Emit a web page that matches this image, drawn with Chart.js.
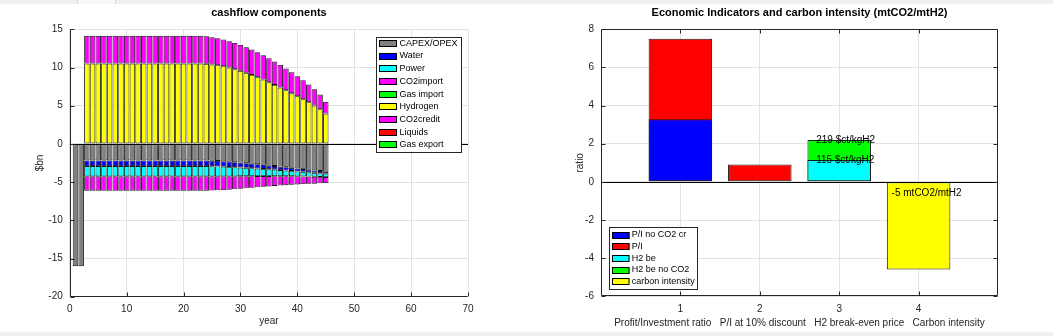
<!DOCTYPE html>
<html><head><meta charset="utf-8">
<script src="https://cdn.jsdelivr.net/npm/chart.js@4.4.1/dist/chart.umd.min.js"></script>
<style>
html,body{margin:0;padding:0;background:#fff;width:1053px;height:336px;overflow:hidden;}
#left{position:absolute;left:0;top:0;}
#right{position:absolute;left:527px;top:0;}
.strip{position:absolute;left:0;width:1053px;background:#f0f0f0;}
</style></head><body>
<div class="strip" style="top:0;height:4px"></div>
<div style="position:absolute;left:77px;top:0;width:37px;height:4px;background:#f8f8f8;border-left:1px solid #d4d4d4;border-right:1px solid #d4d4d4"></div>
<div class="strip" style="top:332px;height:4px"></div>
<canvas id="left" width="527" height="336"></canvas>
<canvas id="right" width="526" height="336"></canvas>
<script>
// ---------- LEFT CHART DATA: cashflow components ($bn) ----------
const years = [1,2,3,4,5,6,7,8,9,10,11,12,13,14,15,16,17,18,19,20,21,22,23,24,25,26,27,28,29,30,31,32,33,34,35,36,37,38,39,40,41,42,43,44,45];
const capexOpex = [
  -16,-16,-2.16,-2.16,-2.16,-2.16,-2.16,-2.16,-2.16,-2.16,
  -2.16,-2.16,-2.16,-2.16,-2.16,-2.16,-2.16,-2.16,-2.16,-2.16,
  -2.16,-2.16,-2.16,-2.16,-2.19,-2.23,-2.28,-2.33,-2.39,-2.45,
  -2.52,-2.59,-2.66,-2.73,-2.81,-2.89,-2.97,-3.05,-3.13,-3.21,
  -3.30,-3.38,-3.47,-3.55,-3.64];
const water = [
  0,0,-0.74,-0.74,-0.74,-0.74,-0.74,-0.74,-0.74,-0.74,
  -0.74,-0.74,-0.74,-0.74,-0.74,-0.74,-0.74,-0.74,-0.74,-0.74,
  -0.74,-0.74,-0.74,-0.74,-0.73,-0.72,-0.70,-0.68,-0.66,-0.64,
  -0.61,-0.59,-0.56,-0.54,-0.51,-0.49,-0.46,-0.44,-0.41,-0.39,
  -0.36,-0.34,-0.31,-0.29,-0.26];
const power = [
  0,0,-1.35,-1.35,-1.35,-1.35,-1.35,-1.35,-1.35,-1.35,
  -1.35,-1.35,-1.35,-1.35,-1.35,-1.35,-1.35,-1.35,-1.35,-1.35,
  -1.35,-1.35,-1.35,-1.35,-1.33,-1.30,-1.27,-1.23,-1.19,-1.14,
  -1.09,-1.04,-0.99,-0.94,-0.89,-0.84,-0.79,-0.74,-0.69,-0.65,
  -0.60,-0.56,-0.52,-0.48,-0.44];
const co2import = [
  0,0,-1.88,-1.88,-1.88,-1.88,-1.88,-1.88,-1.88,-1.88,
  -1.88,-1.88,-1.88,-1.88,-1.88,-1.88,-1.88,-1.88,-1.88,-1.88,
  -1.88,-1.88,-1.88,-1.88,-1.86,-1.83,-1.79,-1.75,-1.70,-1.65,
  -1.59,-1.53,-1.47,-1.41,-1.35,-1.29,-1.23,-1.17,-1.11,-1.05,
  -1.00,-0.95,-0.90,-0.84,-0.79];
const gasImport = [0,0,0,0,0,0,0,0,0,0,0,0,0,0,0,0,0,0,0,0,0,0,0,0,0,0,0,0,0,0,0,0,0,0,0,0,0,0,0,0,0,0,0,0,0];
const hydrogen = [
  0,0,10.52,10.52,10.52,10.52,10.52,10.52,10.52,10.52,
  10.52,10.52,10.52,10.52,10.52,10.52,10.52,10.52,10.52,10.52,
  10.52,10.52,10.52,10.48,10.39,10.30,10.17,10.00,9.78,9.56,
  9.30,9.03,8.73,8.42,8.07,7.72,7.37,7.03,6.63,6.24,
  5.85,5.46,5.02,4.54,3.97];
const co2credit = [
  0,0,3.62,3.62,3.62,3.62,3.62,3.62,3.62,3.62,
  3.62,3.62,3.62,3.62,3.62,3.62,3.62,3.62,3.62,3.62,
  3.62,3.62,3.62,3.62,3.58,3.54,3.49,3.44,3.44,3.40,
  3.36,3.32,3.27,3.19,3.14,3.06,2.97,2.83,2.75,2.62,
  2.49,2.31,2.14,1.92,1.53];
const liquids = [0,0,0,0,0,0,0,0,0,0,0,0,0,0,0,0,0,0,0,0,0,0,0,0,0,0,0,0,0,0,0,0,0,0,0,0,0,0,0,0,0,0,0,0,0];
const gasExport = [0,0,0,0,0,0,0,0,0,0,0,0,0,0,0,0,0,0,0,0,0,0,0,0,0,0,0,0,0,0,0,0,0,0,0,0,0,0,0,0,0,0,0,0,0];
const leftLabels = ['CAPEX/OPEX','Water','Power','CO2import','Gas import','Hydrogen','CO2credit','Liquids','Gas export'];
const leftColors = ['#808080','#0000ff','#00ffff','#ff00ff','#00ff00','#ffff00','#ff00ff','#ff0000','#00ff00'];
const leftSeries = [capexOpex, water, power, co2import, gasImport, hydrogen, co2credit, liquids, gasExport];

// ---------- RIGHT CHART DATA: economic indicators ----------
const indicatorTicks = [1,2,3,4];
const xLabelRight = 'Profit/Investment ratio   P/I at 10% discount   H2 break-even price   Carbon intensity';
const piNoCO2X = [1];    const piNoCO2 = [3.28];
const piX = [1, 2];      const pi = [7.5, 0.91];
const h2beX = [3];       const h2be = [1.15];
const h2beNoCO2X = [3];  const h2beNoCO2 = [2.19];
const carbonX = [4];     const carbonIntensity = [-4.6];
const rightLabels = ['P/I no CO2 cr','P/I','H2 be','H2 be no CO2','carbon intensity'];
const rightColors = ['#0000ff','#ff0000','#00ffff','#00ff00','#ffff00'];
const noteX = [2.71, 2.71, 3.66];
const noteY = [2.19, 1.15, -0.58];
const noteText = ['219 $ct/kgH2', '115 $ct/kgH2', '-5 mtCO2/mtH2'];

// ---------- styling / plugins ----------
const FONT = '"Liberation Sans", Arial, Helvetica, sans-serif';
const AX = '#262626';
const GRID = '#e2e2e2';
Chart.defaults.font.family = FONT;
Chart.defaults.font.size = 10;
Chart.defaults.color = AX;

const framePlugin = {
  id: 'frame',
  afterDatasetsDraw(chart, args, o) {
    const {ctx, chartArea: a, scales} = chart;
    const xs = scales.x, ys = scales.y;
    ctx.save();
    const y0 = Math.round(ys.getPixelForValue(0)) + 0.5;
    ctx.strokeStyle = '#000'; ctx.lineWidth = 1;
    ctx.beginPath(); ctx.moveTo(a.left, y0); ctx.lineTo(a.right, y0); ctx.stroke();
    const L = Math.round(a.left) + 0.5, R = Math.round(a.right) - 0.5;
    const T = Math.round(a.top) + 0.5, B = Math.round(a.bottom) - 0.5;
    ctx.strokeStyle = AX; ctx.lineWidth = 1;
    ctx.beginPath();
    ctx.moveTo(L, T); ctx.lineTo(L, B); ctx.lineTo(R, B);
    if (o.box) { ctx.lineTo(R, T); ctx.lineTo(L, T); }
    ctx.stroke();
    const tl = 4;
    ctx.beginPath();
    ys.ticks.forEach(t => {
      const p = Math.round(ys.getPixelForValue(t.value)) + 0.5;
      ctx.moveTo(L, p); ctx.lineTo(L + tl, p);
      if (o.box) { ctx.moveTo(R, p); ctx.lineTo(R - tl, p); }
    });
    xs.ticks.forEach(t => {
      const p = Math.round(xs.getPixelForValue(t.value)) + 0.5;
      ctx.moveTo(p, B); ctx.lineTo(p, B - tl);
      if (o.box) { ctx.moveTo(p, T); ctx.lineTo(p, T + tl); }
    });
    ctx.stroke();
    if (o.notes) {
      ctx.fillStyle = '#000'; ctx.font = '10px ' + FONT;
      ctx.textAlign = 'left'; ctx.textBaseline = 'middle';
      o.notes.x.forEach((vx, i) => {
        ctx.fillText(o.notes.t[i], xs.getPixelForValue(vx), ys.getPixelForValue(o.notes.y[i]));
      });
    }
    ctx.restore();
  },
  afterDraw(chart, args, o) {
    const {ctx, chartArea: a} = chart;
    ctx.save();
    ctx.fillStyle = '#000';
    ctx.font = 'bold 11px ' + FONT;
    ctx.textAlign = 'center'; ctx.textBaseline = 'middle';
    ctx.fillText(o.title, (a.left + a.right) / 2, 12.7);
    const g = o.legend;
    ctx.fillStyle = '#fff';
    ctx.fillRect(g.x, g.y, g.w, g.h);
    ctx.strokeStyle = AX; ctx.lineWidth = 1;
    ctx.strokeRect(Math.round(g.x) + 0.5, Math.round(g.y) + 0.5, Math.round(g.w) - 1, Math.round(g.h) - 1);
    ctx.font = '9px ' + FONT;
    ctx.textAlign = 'left'; ctx.textBaseline = 'middle';
    chart.data.datasets.forEach((d, i) => {
      const cy = g.y + g.first + i * g.step;
      const sy = Math.round(cy - g.sh / 2);
      ctx.fillStyle = d.backgroundColor;
      ctx.fillRect(Math.round(g.sx), sy, g.sw, g.sh);
      ctx.strokeStyle = '#000';
      ctx.strokeRect(Math.round(g.sx) + 0.5, sy + 0.5, g.sw - 1, g.sh - 1);
      ctx.fillStyle = '#000';
      ctx.fillText(d.label, g.tx, cy);
    });
    ctx.restore();
  }
};

// ---------- LEFT CHART ----------
new Chart(document.getElementById('left'), {
  type: 'bar',
  data: {
    datasets: leftSeries.map((vals, i) => ({
      label: leftLabels[i],
      data: vals.map((v, k) => ({x: years[k], y: v})),
      backgroundColor: leftColors[i],
      borderColor: '#111',
      borderWidth: 0.9,
      borderSkipped: false
    }))
  },
  options: {
    responsive: false, animation: false,
    layout: {padding: {left: 0, right: 59, top: 29.3, bottom: 0}},
    datasets: {bar: {categoryPercentage: 1, barPercentage: 0.96}},
    plugins: {
      legend: {display: false}, tooltip: {enabled: false},
      frame: {
        box: false,
        title: 'cashflow components',
        legend: {x: 376, y: 37, w: 86, h: 116, first: 6.3, step: 12.7, sx: 379, sw: 18, sh: 7, tx: 399.5}
      }
    },
    scales: {
      x: {
        type: 'linear', stacked: true, min: 0, max: 70, offset: false,
        ticks: {stepSize: 10, padding: 7, maxRotation: 0, autoSkip: false, color: AX, font: {size: 10}},
        grid: {color: GRID, drawTicks: false, offset: false},
        border: {display: false},
        title: {display: true, text: 'year', color: AX, font: {size: 10}, padding: {top: 0, bottom: 9}},
        afterFit(s) { s.height = 39.3; }
      },
      y: {
        type: 'linear', stacked: true, min: -20, max: 15,
        ticks: {stepSize: 5, padding: 7, color: AX, font: {size: 10}},
        grid: {color: GRID, drawTicks: false},
        border: {display: false},
        title: {display: true, text: '$bn', color: AX, font: {size: 10}, padding: {top: 34, bottom: 0}},
        afterFit(s) { s.width = 69.8; }
      }
    }
  },
  plugins: [framePlugin]
});

// ---------- RIGHT CHART ----------
const rightSeries = [
  [piNoCO2X, piNoCO2], [piX, pi], [h2beX, h2be], [h2beNoCO2X, h2beNoCO2], [carbonX, carbonIntensity]
];
new Chart(document.getElementById('right'), {
  type: 'bar',
  data: {
    datasets: rightSeries.map(([xs, vs], i) => ({
      label: rightLabels[i],
      data: vs.map((v, k) => ({x: xs[k], y: v})),
      backgroundColor: rightColors[i],
      borderColor: '#1a1a1a',
      borderWidth: 1,
      borderSkipped: false,
      grouped: false
    }))
  },
  options: {
    responsive: false, animation: false,
    layout: {padding: {left: 0, right: 55, top: 29.3, bottom: 0}},
    datasets: {bar: {categoryPercentage: 1, barPercentage: 0.8}},
    plugins: {
      legend: {display: false}, tooltip: {enabled: false},
      frame: {
        box: true,
        title: 'Economic Indicators and carbon intensity (mtCO2/mtH2)',
        notes: {x: noteX, y: noteY, t: noteText},
        legend: {x: 82, y: 227.3, w: 89.3, h: 62.7, first: 7.7, step: 11.67, sx: 84.7, sw: 17.5, sh: 7, tx: 104.7}
      }
    },
    scales: {
      x: {
        type: 'linear', min: 0, max: 5, offset: false,
        afterBuildTicks(s) { s.ticks = indicatorTicks.map(v => ({value: v})); },
        ticks: {padding: 7, maxRotation: 0, autoSkip: false, color: AX, font: {size: 10}},
        grid: {color: GRID, drawTicks: false, offset: false},
        border: {display: false},
        title: {display: true, text: xLabelRight, color: AX, font: {size: 10}, padding: {top: 0, bottom: 6.7}},
        afterFit(s) { s.height = 39.7; }
      },
      y: {
        type: 'linear', min: -6, max: 8,
        ticks: {stepSize: 2, padding: 7, color: AX, font: {size: 10}},
        grid: {color: GRID, drawTicks: false},
        border: {display: false},
        title: {display: true, text: 'ratio', color: AX, font: {size: 10}, padding: {top: 47, bottom: 0}},
        afterFit(s) { s.width = 74; }
      }
    }
  },
  plugins: [framePlugin]
});
</script>
</body></html>
